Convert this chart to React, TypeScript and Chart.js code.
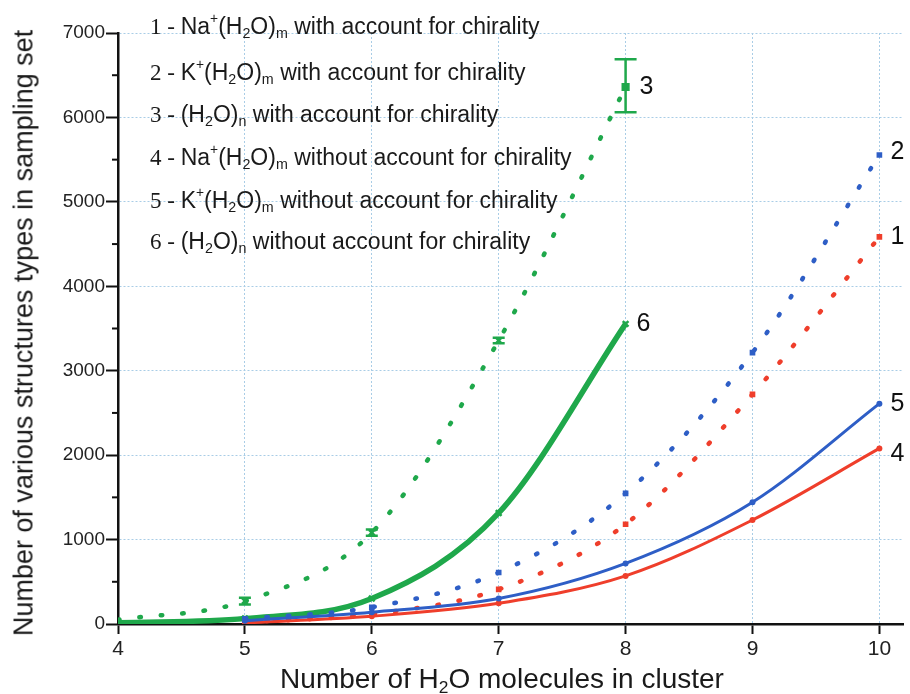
import React, { useEffect, useRef } from "react";
import { Chart, registerables } from "chart.js";
Chart.register(...registerables);

// ---- data ----
const xTicks = [4, 5, 6, 7, 8, 9, 10];
const yTicks = [0, 1000, 2000, 3000, 4000, 5000, 6000, 7000];
const yMinorTicks = [500, 1500, 2500, 3500, 4500, 5500, 6500];
const xWater = [4, 5, 6, 7, 8];
const xIon = [5, 6, 7, 8, 9, 10];
const s1NaChiral = [20, 118, 410, 1182, 2720, 4585];
const s2KChiral = [62, 198, 610, 1548, 3215, 5555];
const s3WaterChiral = [50, 272, 1082, 3358, 6360];
const s3ErrLow = [50, 232, 1045, 3325, 6060];
const s3ErrHigh = [50, 312, 1120, 3390, 6690];
const s4NaPlain = [12, 92, 245, 570, 1232, 2080];
const s5KPlain = [38, 140, 302, 718, 1442, 2610];
const s6WaterPlain = [15, 65, 302, 1315, 3555];
const curveLabels = ["1", "2", "3", "4", "5", "6"];

const RED = "#ef3e2b";
const BLUE = "#2e5ec6";
const GREEN = "#1fa84b";
const FONT = '"Liberation Sans", Arial, sans-serif';

const pts = (xs: number[], ys: number[]) => xs.map((x, i) => ({ x, y: ys[i] }));

const overlayPlugin = {
  id: "overlay",
  afterDatasetsDraw(chart: any) {
    const { ctx, scales } = chart;
    const xs = scales.x;
    const ys = scales.y;
    ctx.save();
    // error bars on series 3
    ctx.strokeStyle = GREEN;
    ctx.lineWidth = 2.5;
    xWater.forEach((xv, i) => {
      if (s3ErrHigh[i] - s3ErrLow[i] < 1) return;
      const px = xs.getPixelForValue(xv);
      const y1 = ys.getPixelForValue(s3ErrLow[i]);
      const y2 = ys.getPixelForValue(s3ErrHigh[i]);
      const cap = i === xWater.length - 1 ? 11 : 6;
      ctx.beginPath();
      ctx.moveTo(px, y1);
      ctx.lineTo(px, y2);
      ctx.moveTo(px - cap, y1);
      ctx.lineTo(px + cap, y1);
      ctx.moveTo(px - cap, y2);
      ctx.lineTo(px + cap, y2);
      ctx.stroke();
    });
    // minor ticks on y axis
    ctx.strokeStyle = "#111";
    ctx.lineWidth = 2;
    const left = chart.chartArea.left;
    yMinorTicks.forEach((v) => {
      const py = ys.getPixelForValue(v);
      ctx.beginPath();
      ctx.moveTo(left - 6, py);
      ctx.lineTo(left, py);
      ctx.stroke();
    });
    // curve labels
    ctx.fillStyle = "#111";
    ctx.font = `25px ${FONT}`;
    ctx.textBaseline = "middle";
    ctx.textAlign = "left";
    const ends: [number, number][] = [
      [xIon[xIon.length - 1], s1NaChiral[s1NaChiral.length - 1]],
      [xIon[xIon.length - 1], s2KChiral[s2KChiral.length - 1]],
      [xWater[xWater.length - 1], s3WaterChiral[s3WaterChiral.length - 1]],
      [xIon[xIon.length - 1], s4NaPlain[s4NaPlain.length - 1]],
      [xIon[xIon.length - 1], s5KPlain[s5KPlain.length - 1]],
      [xWater[xWater.length - 1], s6WaterPlain[s6WaterPlain.length - 1]],
    ];
    ends.forEach(([xv, yv], i) => {
      const px = xs.getPixelForValue(xv);
      const py = ys.getPixelForValue(yv);
      const dy = i === 3 ? 6 : i === 1 ? -3 : 0;
      const dx = i === 2 ? 14 : 11;
      ctx.fillText(curveLabels[i], px + dx, py + dy);
    });
    ctx.restore();
  },
};

function Formula({ ion, sub }: { ion?: string; sub: string }) {
  const sup = { fontSize: "0.6em", verticalAlign: "0.75em", lineHeight: 0 } as React.CSSProperties;
  const sb = { fontSize: "0.62em", verticalAlign: "-0.3em", lineHeight: 0 } as React.CSSProperties;
  return (
    <>
      {ion ? (
        <>
          {ion}
          <span style={sup}>+</span>
        </>
      ) : null}
      (H<span style={sb}>2</span>O)<span style={sb}>{sub}</span>
    </>
  );
}

const legendRows: { n: string; ion?: string; sub: string; text: string }[] = [
  { n: "1", ion: "Na", sub: "m", text: "with account for chirality" },
  { n: "2", ion: "K", sub: "m", text: "with account for chirality" },
  { n: "3", sub: "n", text: "with account for chirality" },
  { n: "4", ion: "Na", sub: "m", text: "without account for chirality" },
  { n: "5", ion: "K", sub: "m", text: "without account for chirality" },
  { n: "6", sub: "n", text: "without account for chirality" },
];
const legendTops = [26, 72, 114, 157, 200, 241];

export default function App() {
  const ref = useRef<HTMLCanvasElement | null>(null);
  useEffect(() => {
    document.body.style.margin = "0";
    if (!ref.current) return;
    const dotted = { borderWidth: 4.5, borderDash: [1.5, 20], borderCapStyle: "round" };
    const chart = new Chart(ref.current, {
      type: "line",
      data: {
        datasets: [
          {
            label: "1",
            data: pts(xIon, s1NaChiral),
            borderColor: RED,
            backgroundColor: RED,
            ...dotted,
            cubicInterpolationMode: "monotone",
            pointStyle: "rect",
            pointRadius: 4,
            pointBorderWidth: 0,
            order: 3,
          },
          {
            label: "2",
            data: pts(xIon, s2KChiral),
            borderColor: BLUE,
            backgroundColor: BLUE,
            ...dotted,
            cubicInterpolationMode: "monotone",
            pointStyle: "rect",
            pointRadius: 4,
            pointBorderWidth: 0,
            order: 4,
          },
          {
            label: "3",
            data: pts(xWater, s3WaterChiral),
            borderColor: GREEN,
            backgroundColor: GREEN,
            ...dotted,
            cubicInterpolationMode: "monotone",
            pointStyle: (c: any) => (c.dataIndex === xWater.length - 1 ? "rect" : "crossRot"),
            pointRadius: (c: any) => (c.dataIndex === 0 ? 0 : 4),
            pointBorderWidth: 2.5,
            pointBorderColor: GREEN,
            order: 2,
          },
          {
            label: "4",
            data: pts(xIon, s4NaPlain),
            borderColor: RED,
            backgroundColor: RED,
            borderWidth: 3,
            cubicInterpolationMode: "monotone",
            pointStyle: "circle",
            pointRadius: 3,
            pointBorderWidth: 0,
            order: 1,
          },
          {
            label: "5",
            data: pts(xIon, s5KPlain),
            borderColor: BLUE,
            backgroundColor: BLUE,
            borderWidth: 3,
            cubicInterpolationMode: "monotone",
            pointStyle: "circle",
            pointRadius: 3,
            pointBorderWidth: 0,
            order: 0,
          },
          {
            label: "6",
            data: pts(xWater, s6WaterPlain),
            borderColor: GREEN,
            backgroundColor: GREEN,
            borderWidth: 5.5,
            cubicInterpolationMode: "monotone",
            pointStyle: "crossRot",
            pointRadius: 4,
            pointBorderWidth: 2.5,
            pointBorderColor: GREEN,
            order: 6,
          },
        ],
      },
      options: {
        animation: false,
        responsive: false,
        maintainAspectRatio: false,
        layout: { padding: { top: 33, right: 0, left: 0, bottom: 0 } },
        plugins: { legend: { display: false }, tooltip: { enabled: false } },
        scales: {
          x: {
            type: "linear",
            min: 4,
            max: 10.19,
            afterBuildTicks: (s: any) => {
              s.ticks = xTicks.map((v) => ({ value: v }));
            },
            afterFit: (s: any) => {
              s.height = 70;
            },
            grid: {
              color: (c: any) => (c.tick && c.tick.value === 4 ? "rgba(0,0,0,0)" : "#a9cde6"),
              lineWidth: 1,
              tickColor: "#111",
              tickWidth: 2,
              tickLength: 10,
              drawTicks: true,
            },
            border: { display: true, color: "#111", width: 2.5, dash: [2, 2] },
            ticks: {
              color: "#222",
              font: { family: FONT, size: 21 },
              padding: 3,
              maxRotation: 0,
              callback: (v: any) => String(v),
            },
          },
          y: {
            type: "linear",
            min: 0,
            max: 7000,
            afterBuildTicks: (s: any) => {
              s.ticks = yTicks.map((v) => ({ value: v }));
            },
            afterFit: (s: any) => {
              s.width = 118;
            },
            grid: {
              color: (c: any) => (c.tick && c.tick.value === 0 ? "rgba(0,0,0,0)" : "#a9cde6"),
              lineWidth: 1,
              tickColor: "#111",
              tickWidth: 2,
              tickLength: 12,
              drawTicks: true,
            },
            border: { display: true, color: "#111", width: 2.5, dash: [2, 2] },
            ticks: {
              color: "#222",
              font: { family: FONT, size: 19 },
              padding: 1,
              callback: (v: any) => String(v),
            },
          },
        },
      },
      plugins: [overlayPlugin],
    } as any);
    return () => chart.destroy();
  }, []);

  return (
    <div style={{ position: "relative", width: 910, height: 694, background: "#fff", fontFamily: FONT }}>
      <canvas ref={ref} width={910} height={694} style={{ display: "block" }} />
      {legendRows.map((r, i) => (
        <div
          key={r.n}
          style={{
            position: "absolute",
            left: 150,
            top: legendTops[i],
            transform: "translateY(-50%)",
            fontSize: 23,
            color: "#1a1a1a",
            whiteSpace: "nowrap",
            lineHeight: "26px",
          }}
        >
          <span style={{ fontFamily: '"Liberation Serif", serif' }}>{r.n} - </span>
          <Formula ion={r.ion} sub={r.sub} /> {r.text}
        </div>
      ))}
      <div
        style={{
          position: "absolute",
          left: 502,
          top: 679,
          transform: "translate(-50%, -50%)",
          fontSize: 28,
          color: "#1a1a1a",
          whiteSpace: "nowrap",
        }}
      >
        Number of H<span style={{ fontSize: "0.62em", verticalAlign: "-0.3em", lineHeight: 0 }}>2</span>O molecules in cluster
      </div>
      <div
        style={{
          position: "absolute",
          left: 24,
          top: 333,
          transform: "translate(-50%, -50%) rotate(-90deg)",
          fontSize: 27,
          color: "#1a1a1a",
          whiteSpace: "nowrap",
        }}
      >
        Number of various structures types in sampling set
      </div>
    </div>
  );
}
